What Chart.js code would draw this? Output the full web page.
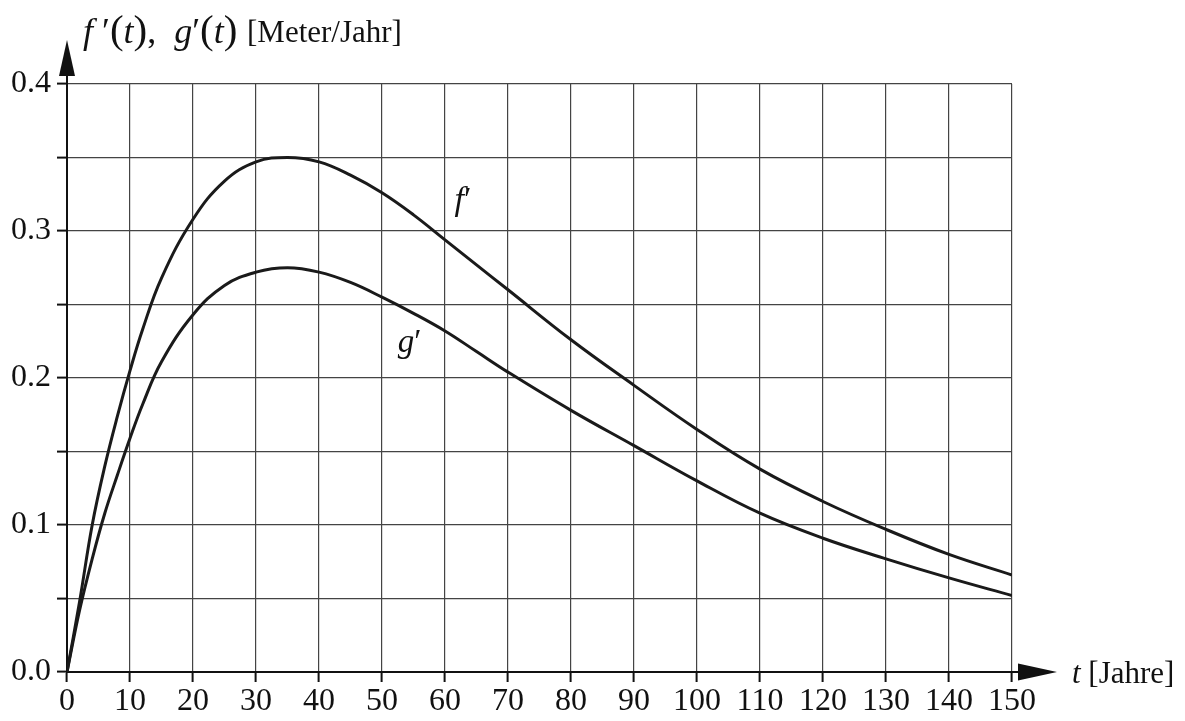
<!DOCTYPE html>
<html>
<head>
<meta charset="utf-8">
<script src="https://cdn.jsdelivr.net/npm/chart.js@4.4.1/dist/chart.umd.min.js"></script>
<style>
  html, body { margin: 0; padding: 0; background: #fff; }
  canvas { display: block; }
</style>
</head>
<body>
<canvas id="myChart" width="1185" height="721"></canvas>
<script>
// years and the two growth rates
const years = [0, 2, 4, 6, 8, 10, 12, 15, 20, 25, 30, 35, 40, 45, 50, 55, 60, 65, 70, 80, 90, 100, 110, 120, 130, 140, 150];
const fRate = [0, 0.048, 0.100, 0.140, 0.174, 0.205, 0.233, 0.268, 0.308, 0.334, 0.347, 0.350, 0.347, 0.338, 0.326, 0.311, 0.294, 0.277, 0.260, 0.226, 0.195, 0.165, 0.138, 0.116, 0.097, 0.080, 0.066];
const gRate = [0, 0.042, 0.077, 0.108, 0.134, 0.159, 0.182, 0.211, 0.243, 0.263, 0.272, 0.275, 0.272, 0.265, 0.255, 0.244, 0.232, 0.218, 0.204, 0.178, 0.154, 0.130, 0.108, 0.091, 0.077, 0.064, 0.052];

// where the curve names sit (t, value at the baseline)
const fLabelAt = [61.5, 0.314];
const gLabelAt = [52.5, 0.218];

const serif = 'Liberation Serif';
const ink = '#111';

function toPoints(values) {
  return years.map((t, i) => ({ x: t, y: values[i] }));
}

function drawParts(ctx, x, y, parts) {
  parts.forEach(p => {
    ctx.font = p[1];
    ctx.fillText(p[0], x, y);
    x += ctx.measureText(p[0]).width;
  });
}

const axisDecor = {
  id: 'axisDecor',
  afterDraw(chart) {
    const ctx = chart.ctx;
    const a = chart.chartArea;
    const xs = chart.scales.x;
    const ys = chart.scales.y;
    ctx.save();
    ctx.fillStyle = ink;
    ctx.strokeStyle = ink;
    ctx.lineWidth = 2;

    // y axis going up to the arrow
    ctx.beginPath();
    ctx.moveTo(a.left, a.top);
    ctx.lineTo(a.left, 70);
    ctx.stroke();
    ctx.beginPath();
    ctx.moveTo(a.left, 40);
    ctx.lineTo(a.left - 8, 76);
    ctx.lineTo(a.left + 8, 76);
    ctx.closePath();
    ctx.fill();

    // x axis going right to the arrow
    ctx.beginPath();
    ctx.moveTo(a.right, a.bottom);
    ctx.lineTo(1022, a.bottom);
    ctx.stroke();
    ctx.beginPath();
    ctx.moveTo(1057, a.bottom);
    ctx.lineTo(1018, a.bottom - 8.5);
    ctx.lineTo(1018, a.bottom + 8.5);
    ctx.closePath();
    ctx.fill();

    // axis titles
    ctx.textBaseline = 'alphabetic';
    ctx.textAlign = 'left';
    const it = 'italic 36px "' + serif + '"';
    const rm = '36px "' + serif + '"';
    const par = '41px "' + serif + '"';
    drawParts(ctx, 83, 43, [
      ['f', it], [' \u2032', rm], ['(', par], ['t', it], [')', par], [',  ', rm],
      ['g', it], ['\u2032', rm], ['(', par], ['t', it], [')', par]
    ]);
    ctx.font = '31px "' + serif + '"';
    ctx.fillText('[Meter/Jahr]', 247, 42);

    drawParts(ctx, 1072, 683, [['t', 'italic 31px "' + serif + '"'], [' [Jahre]', '31px "' + serif + '"']]);

    // curve names
    drawParts(ctx, xs.getPixelForValue(fLabelAt[0]), ys.getPixelForValue(fLabelAt[1]),
      [['f', 'italic 34px "' + serif + '"'], ['\u2032', '34px "' + serif + '"']]);
    drawParts(ctx, xs.getPixelForValue(gLabelAt[0]), ys.getPixelForValue(gLabelAt[1]),
      [['g', 'italic 33px "' + serif + '"'], ['\u2032', '33px "' + serif + '"']]);
    ctx.restore();
  }
};

const lineStyle = {
  borderColor: '#1a1a1a',
  borderWidth: 3,
  pointRadius: 0,
  fill: false,
  tension: 0.4
};

const config = {
  type: 'line',
  data: {
    datasets: [
      Object.assign({ label: "f'", data: toPoints(fRate) }, lineStyle),
      Object.assign({ label: "g'", data: toPoints(gRate) }, lineStyle)
    ]
  },
  options: {
    responsive: false,
    devicePixelRatio: 1,
    animation: false,
    layout: { padding: { left: 0, top: 84, right: 173, bottom: 0 } },
    plugins: {
      legend: { display: false },
      tooltip: { enabled: false }
    },
    scales: {
      x: {
        type: 'linear',
        min: 0,
        max: 150,
        afterFit: s => { s.height = 49; },
        ticks: {
          stepSize: 10,
          autoSkip: false,
          maxRotation: 0,
          padding: 0,
          color: ink,
          font: { family: serif, size: 32 }
        },
        grid: { color: '#444', lineWidth: 1.2, tickLength: 10, tickColor: ink, tickWidth: 2 },
        border: { color: ink, width: 2 }
      },
      y: {
        min: 0,
        max: 0.4,
        afterFit: s => { s.width = 67; },
        ticks: {
          stepSize: 0.05,
          autoSkip: false,
          padding: 6,
          color: ink,
          font: { family: serif, size: 32 },
          callback: v => (Math.round(v * 100) % 10 === 0 ? v.toFixed(1) : '')
        },
        grid: { color: '#444', lineWidth: 1.2, tickLength: 10, tickColor: ink, tickWidth: 2 },
        border: { color: ink, width: 2 }
      }
    }
  },
  plugins: [axisDecor]
};

const myChart = new Chart(document.getElementById('myChart'), config);
</script>
</body>
</html>
